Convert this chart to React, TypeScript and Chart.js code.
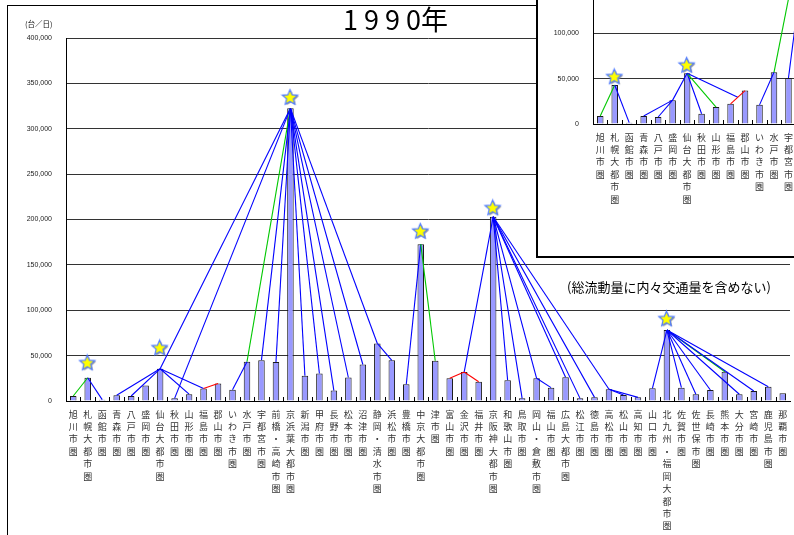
import React, { useEffect, useRef } from 'react';
import { Chart, registerables } from 'chart.js';
Chart.register(...registerables);

const areas = ['旭川市圏','札幌大都市圏','函館市圏','青森市圏','八戸市圏','盛岡市圏','仙台大都市圏','秋田市圏','山形市圏','福島市圏','郡山市圏','いわき市圏','水戸市圏','宇都宮市圏','前橋・高崎市圏','京浜葉大都市圏','新潟市圏','甲府市圏','長野市圏','松本市圏','沼津市圏','静岡・清水市圏','浜松市圏','豊橋市圏','中京大都市圏','津市圏','富山市圏','金沢市圏','福井市圏','京阪神大都市圏','和歌山市圏','鳥取市圏','岡山・倉敷市圏','福山市圏','広島大都市圏','松江市圏','徳島市圏','高松市圏','松山市圏','高知市圏','山口市圏','北九州・福岡大都市圏','佐賀市圏','佐世保市圏','長崎市圏','熊本市圏','大分市圏','宮崎市圏','鹿児島市圏','那覇市圏'];

const yTicks = [0, 50000, 100000, 150000, 200000, 250000, 300000, 350000, 400000];

// 1990 (main chart)
const flow1990 = [5500,25600,1500,6400,5500,17200,35500,2900,7500,13800,19300,12500,43300,45000,43000,322500,27900,30300,11500,25900,40200,63400,44800,18500,172800,44400,25000,32000,21300,203000,22800,2900,25000,14700,26100,2900,4000,12900,6600,4000,14000,78200,14700,7400,12100,32300,7400,11000,15800,8500];
const stars1990 = [null,41500,null,null,null,null,58000,null,null,null,null,null,null,null,null,334000,null,null,null,null,null,null,null,null,186500,null,null,null,null,212300,null,null,null,null,null,null,null,null,null,null,null,90000,null,null,null,null,null,null,null,null];

// inset chart (partly hidden)
const flowInset = [8800,43000,1500,8800,7700,26300,55900,11300,18600,22200,36800,21100,57000,50700,55000,300000,35000,35000,18000,30000,48000,70000,55000,25000,190000,55000,30000,38000,25000,210000,25000,4000,30000,18000,32000,4000,6000,16000,8000,5000,16000,90000,18000,9000,14000,38000,9000,13000,18000,10000];
const starsInset = [null,51500,null,null,null,null,64200,null,null,null,null,null,null,null,null,315000,null,null,null,null,null,null,null,null,200000,null,null,null,null,222000,null,null,null,null,null,null,null,null,null,null,null,100000,null,null,null,null,null,null,null,null];

const BLUE = '#0000FF', GREEN = '#00C800', RED = '#FF0000';

const links1990: [string, string, string][] = [
  ['旭川市圏','札幌大都市圏',GREEN],
  ['函館市圏','札幌大都市圏',BLUE],
  ['青森市圏','仙台大都市圏',BLUE],
  ['八戸市圏','仙台大都市圏',BLUE],
  ['山形市圏','仙台大都市圏',BLUE],
  ['福島市圏','仙台大都市圏',BLUE],
  ['福島市圏','郡山市圏',RED],
  ['仙台大都市圏','京浜葉大都市圏',BLUE],
  ['秋田市圏','京浜葉大都市圏',BLUE],
  ['いわき市圏','水戸市圏',BLUE],
  ['水戸市圏','京浜葉大都市圏',GREEN],
  ['宇都宮市圏','京浜葉大都市圏',BLUE],
  ['前橋・高崎市圏','京浜葉大都市圏',BLUE],
  ['新潟市圏','京浜葉大都市圏',BLUE],
  ['甲府市圏','京浜葉大都市圏',BLUE],
  ['長野市圏','京浜葉大都市圏',BLUE],
  ['松本市圏','京浜葉大都市圏',BLUE],
  ['沼津市圏','京浜葉大都市圏',BLUE],
  ['静岡・清水市圏','京浜葉大都市圏',BLUE],
  ['浜松市圏','静岡・清水市圏',BLUE],
  ['豊橋市圏','中京大都市圏',BLUE],
  ['津市圏','中京大都市圏',GREEN],
  ['富山市圏','金沢市圏',RED],
  ['金沢市圏','福井市圏',RED],
  ['金沢市圏','京阪神大都市圏',BLUE],
  ['和歌山市圏','京阪神大都市圏',BLUE],
  ['鳥取市圏','京阪神大都市圏',BLUE],
  ['岡山・倉敷市圏','京阪神大都市圏',BLUE],
  ['福山市圏','岡山・倉敷市圏',BLUE],
  ['広島大都市圏','京阪神大都市圏',BLUE],
  ['松江市圏','京阪神大都市圏',BLUE],
  ['徳島市圏','京阪神大都市圏',BLUE],
  ['高松市圏','京阪神大都市圏',BLUE],
  ['松山市圏','高松市圏',BLUE],
  ['高知市圏','高松市圏',BLUE],
  ['山口市圏','北九州・福岡大都市圏',BLUE],
  ['佐賀市圏','北九州・福岡大都市圏',BLUE],
  ['佐世保市圏','北九州・福岡大都市圏',BLUE],
  ['長崎市圏','北九州・福岡大都市圏',BLUE],
  ['熊本市圏','北九州・福岡大都市圏',GREEN],
  ['大分市圏','北九州・福岡大都市圏',BLUE],
  ['宮崎市圏','北九州・福岡大都市圏',BLUE],
  ['鹿児島市圏','北九州・福岡大都市圏',BLUE],
];

const linksInset: [string, string, string][] = [
  ['旭川市圏','札幌大都市圏',GREEN],
  ['函館市圏','札幌大都市圏',BLUE],
  ['青森市圏','盛岡市圏',BLUE],
  ['八戸市圏','盛岡市圏',BLUE],
  ['盛岡市圏','仙台大都市圏',BLUE],
  ['秋田市圏','仙台大都市圏',BLUE],
  ['山形市圏','仙台大都市圏',GREEN],
  ['福島市圏|郡山市圏','仙台大都市圏',BLUE],
  ['福島市圏','郡山市圏',RED],
  ['いわき市圏','水戸市圏',BLUE],
  ['水戸市圏','京浜葉大都市圏',GREEN],
  ['宇都宮市圏','京浜葉大都市圏',BLUE],
  ['前橋・高崎市圏','京浜葉大都市圏',BLUE],
  ['新潟市圏','京浜葉大都市圏',BLUE],
  ['豊橋市圏','中京大都市圏',BLUE],
  ['津市圏','中京大都市圏',GREEN],
  ['金沢市圏','京阪神大都市圏',BLUE],
  ['岡山・倉敷市圏','京阪神大都市圏',BLUE],
  ['山口市圏','北九州・福岡大都市圏',BLUE],
  ['熊本市圏','北九州・福岡大都市圏',GREEN],
];

function makeStar(): HTMLCanvasElement {
  const c = document.createElement('canvas');
  c.width = 20; c.height = 20;
  const g = c.getContext('2d')!;
  const path = (cx: number, cy: number) => {
    g.beginPath();
    for (let i = 0; i < 10; i++) {
      const r = i % 2 === 0 ? 8 : 3.6;
      const a = -Math.PI / 2 + i * Math.PI / 5;
      const px = cx + r * Math.cos(a), py = cy + r * Math.sin(a);
      if (i === 0) g.moveTo(px, py); else g.lineTo(px, py);
    }
    g.closePath();
  };
  path(10.8, 10.8);
  g.fillStyle = '#9a9a9a';
  g.fill();
  path(9.5, 9.8);
  g.fillStyle = '#FFFF00';
  g.fill();
  g.lineWidth = 1.2;
  g.strokeStyle = '#4d79ff';
  g.stroke();
  return c;
}

const linkPlugin = {
  id: 'links',
  afterDatasetDraw(chart: any, args: any, opts: any) {
    if (args.index !== 0) return;
    const { ctx, scales } = chart;
    const x = scales.x, y = scales.y;
    const vals: number[] = opts.values;
    const pt = (name: string) => {
      const parts = name.split('|');
      let px = 0, py = 0;
      parts.forEach((p) => {
        const i = areas.indexOf(p);
        px += x.getPixelForValue(i);
        py += y.getPixelForValue(vals[i]);
      });
      return [px / parts.length, py / parts.length];
    };
    ctx.save();
    ctx.lineWidth = 1.1;
    (opts.links as [string, string, string][]).forEach(([a, b, col]) => {
      const p = pt(a), q = pt(b);
      ctx.strokeStyle = col;
      ctx.beginPath();
      ctx.moveTo(p[0], p[1]);
      ctx.lineTo(q[0], q[1]);
      ctx.stroke();
    });
    ctx.restore();
  },
  beforeDatasetsDraw(chart: any) {
    const { ctx, scales } = chart;
    const x = scales.x;
    const bottom = chart.chartArea.bottom;
    const n = areas.length;
    const w = (x.getPixelForValue(1) - x.getPixelForValue(0));
    ctx.save();
    ctx.strokeStyle = '#000';
    ctx.lineWidth = 1;
    ctx.beginPath();
    for (let i = 1; i < n; i++) {
      const xx = Math.round(x.getPixelForValue(i) - w / 2) + 0.5;
      ctx.moveTo(xx, bottom);
      ctx.lineTo(xx, bottom - 4);
    }
    ctx.stroke();
    ctx.restore();
  },
};

function Panel({ values, stars, links }: { values: number[]; stars: (number | null)[]; links: [string, string, string][] }) {
  const ref = useRef<HTMLCanvasElement>(null);
  useEffect(() => {
    const starImg = makeStar();
    const chart = new Chart(ref.current!, {
      type: 'bar',
      data: {
        labels: areas.map((a) => Array.from(a)),
        datasets: [
          {
            type: 'bar',
            data: values,
            backgroundColor: '#9999FF',
            borderColor: '#1a1a1a',
            borderWidth: 1,
            barPercentage: 0.45,
            categoryPercentage: 1,
            order: 2,
          } as any,
          {
            type: 'line',
            data: stars,
            showLine: false,
            pointStyle: starImg,
            pointRadius: 9,
            order: 1,
          } as any,
        ],
      },
      options: {
        animation: false,
        responsive: false,
        maintainAspectRatio: false,
        layout: { padding: { top: 38, right: 5, left: 0, bottom: 0 } },
        plugins: {
          legend: { display: false },
          tooltip: { enabled: false },
          links: { values, links },
        } as any,
        scales: {
          x: {
            grid: { display: false, drawTicks: false },
            border: { display: true, color: '#000', width: 1 },
            ticks: {
              autoSkip: false,
              maxRotation: 0,
              minRotation: 0,
              padding: 7,
              color: '#333',
              font: { size: 9, family: "'Noto Sans CJK JP', sans-serif", lineHeight: 1.38 },
            },
            afterFit: (s: any) => { s.height = 134; },
          },
          y: {
            min: 0,
            max: 400000,
            afterBuildTicks: (s: any) => { s.ticks = yTicks.map((v) => ({ value: v })); },
            ticks: {
              padding: 14,
              color: '#222',
              font: { size: 7, family: "'Liberation Sans', Arial, sans-serif" },
              callback: (v: any) => Number(v).toLocaleString('en-US'),
            },
            grid: { color: '#333', lineWidth: 1, drawTicks: false },
            border: { display: true, color: '#000', width: 1 },
            afterFit: (s: any) => { s.width = 66; },
          },
        },
      },
      plugins: [linkPlugin],
    } as any);
    return () => chart.destroy();
  }, []);
  return <canvas ref={ref} width={800} height={535} style={{ width: 800, height: 535, display: 'block' }} />;
}

export default function App() {
  useEffect(() => {
    document.body.style.margin = '0';
  }, []);
  return (
    <div style={{ position: 'fixed', left: 0, top: 0, width: 794, height: 535, overflow: 'hidden', background: '#fff' }}>
      <div style={{ position: 'absolute', left: 0, top: 0 }}>
        <Panel values={flow1990} stars={stars1990} links={links1990} />
      </div>
      <div style={{ position: 'absolute', left: 7, top: 5, width: 1000, height: 1000, border: '1px solid #000', pointerEvents: 'none' }} />
      <div style={{ position: 'absolute', left: 25, top: 20, fontSize: 7.5, lineHeight: 1, color: '#111', fontFamily: "'Noto Sans CJK JP', sans-serif" }}>(台／日)</div>
      <div style={{ position: 'absolute', left: 343, top: 5, fontSize: 27, lineHeight: 1, color: '#000', fontFamily: "'Noto Sans CJK JP', sans-serif", whiteSpace: 'pre' }}>1 9 9 0年</div>
      <div style={{ position: 'absolute', left: 567, top: 280, fontSize: 13, lineHeight: 1, color: '#000', fontFamily: "'Noto Sans CJK JP', sans-serif", whiteSpace: 'pre' }}>(総流動量に内々交通量を含めない)</div>
      <div style={{ position: 'absolute', left: 536, top: 0, width: 300, height: 256, borderLeft: '2px solid #000', borderBottom: '2px solid #000', background: '#fff', overflow: 'hidden' }}>
        <div style={{ position: 'absolute', left: -11, top: -277 }}>
          <Panel values={flowInset} stars={starsInset} links={linksInset} />
        </div>
      </div>
    </div>
  );
}
